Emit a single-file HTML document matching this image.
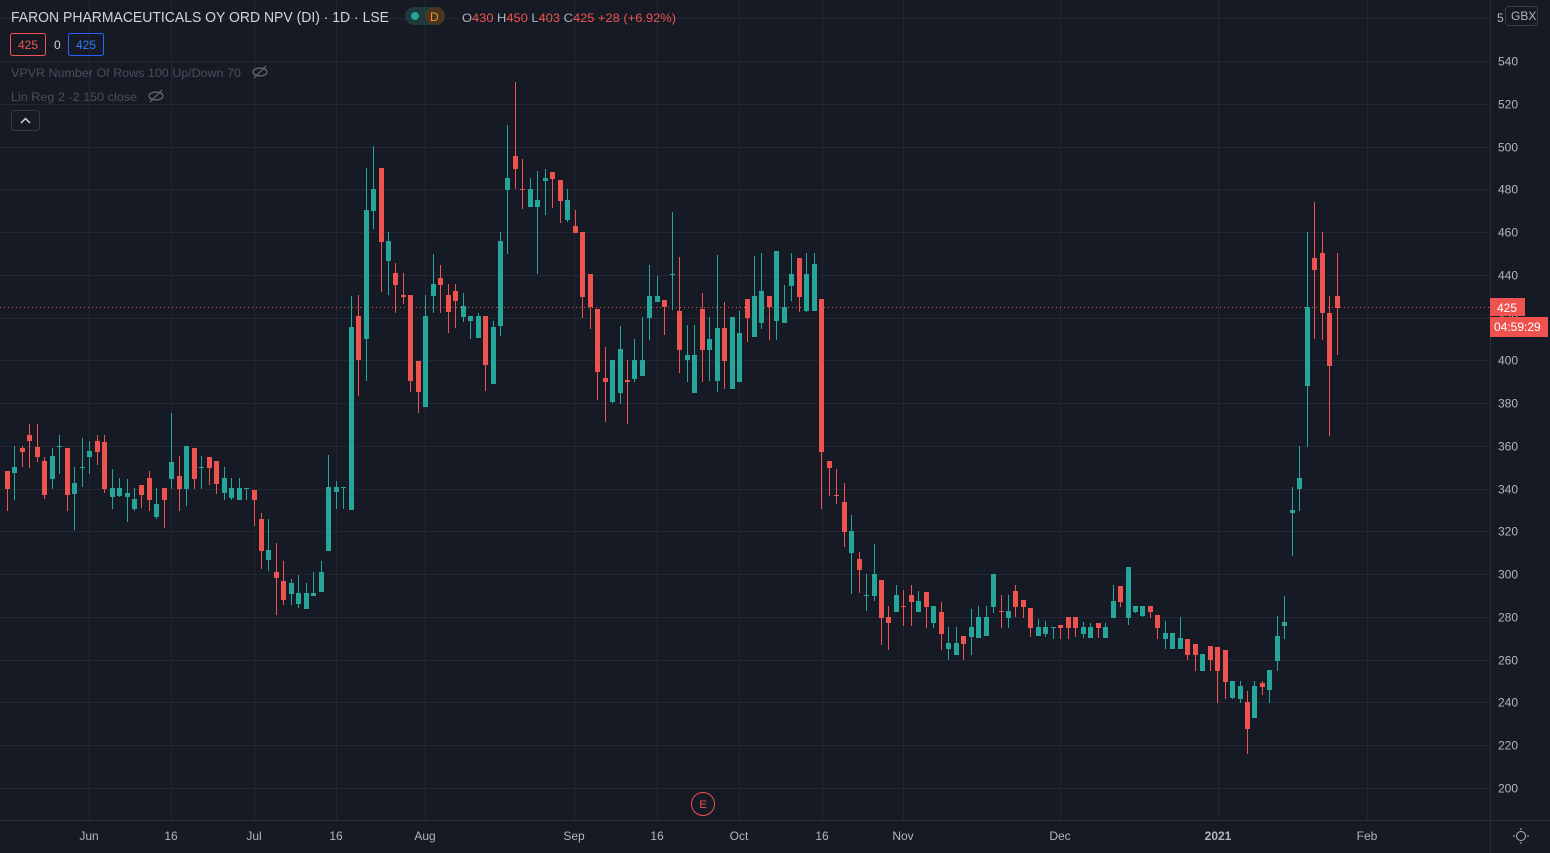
<!DOCTYPE html>
<html><head><meta charset="utf-8"><style>
html,body{margin:0;padding:0;background:#161a25;width:1550px;height:853px;overflow:hidden;font-family:"Liberation Sans",sans-serif}
svg{position:absolute;left:0;top:0}
</style></head><body>
<svg id="s" width="1550" height="853" xmlns="http://www.w3.org/2000/svg">
<rect x="0" y="0" width="1550" height="853" fill="#161a25"/>
<g id="grid" stroke="#232734" stroke-width="1"></g>
<line x1="1490.5" y1="0" x2="1490.5" y2="853" stroke="#2a2e39"/>
<line x1="0" y1="820.5" x2="1550" y2="820.5" stroke="#2a2e39"/>
<line x1="0" y1="307.5" x2="1490" y2="307.5" stroke="#ef5350" stroke-dasharray="1 3"/>
<g id="c"></g>
<g id="yl" font-size="12" fill="#b2b5be"></g>
<g id="xl" font-size="12" fill="#b2b5be" text-anchor="middle"></g>
<text x="11" y="22" font-size="15" fill="#d1d4dc" textLength="378" lengthAdjust="spacingAndGlyphs">FARON PHARMACEUTICALS OY ORD NPV (DI) · 1D · LSE</text>
<rect x="405" y="7" width="40" height="18" rx="9" fill="#1e3a3a"/>
<rect x="425" y="7" width="20" height="18" rx="9" fill="#4a3520"/>
<circle cx="415" cy="16" r="4" fill="#26a69a"/>
<text x="430" y="21" font-size="12" fill="#f7931a">D</text>
<text x="462" y="22" font-size="12" fill="#ef5350" textLength="214" lengthAdjust="spacingAndGlyphs"><tspan fill="#b2b5be">O</tspan>430 <tspan fill="#b2b5be">H</tspan>450 <tspan fill="#b2b5be">L</tspan>403 <tspan fill="#b2b5be">C</tspan>425 +28 (+6.92%)</text>
<rect x="10.5" y="33.5" width="35" height="22" rx="2" fill="none" stroke="#ef5350"/>
<text x="18" y="49" font-size="12" fill="#ef5350">425</text>
<text x="54" y="49" font-size="12" fill="#d1d4dc">0</text>
<rect x="68.5" y="33.5" width="35" height="22" rx="2" fill="none" stroke="#2962ff"/>
<text x="76" y="49" font-size="12" fill="#2f7bff">425</text>
<text x="11" y="77" font-size="12" fill="#4a4e5a" textLength="230" lengthAdjust="spacingAndGlyphs">VPVR Number Of Rows 100 Up/Down 70</text>
<text x="11" y="101" font-size="12" fill="#4a4e5a" textLength="126" lengthAdjust="spacingAndGlyphs">Lin Reg 2 -2 150 close</text>
<g fill="none" stroke="#6a6d78" stroke-width="1.2"><ellipse cx="260" cy="72" rx="7" ry="4"/><line x1="254" y1="78" x2="266" y2="66"/><ellipse cx="156" cy="96" rx="7" ry="4"/><line x1="150" y1="102" x2="162" y2="90"/></g>
<rect x="11.5" y="110.5" width="28" height="20" rx="3" fill="none" stroke="#363a45"/>
<path d="M21 123 L25.5 118.5 L30 123" fill="none" stroke="#d1d4dc" stroke-width="1.5"/>
<circle cx="703" cy="804" r="11.5" fill="none" stroke="#ef5350"/>
<text x="703" y="808" font-size="11" fill="#ef5350" text-anchor="middle">E</text>
<rect x="1490" y="298" width="35" height="18" fill="#ef5350"/>
<text x="1497" y="312" font-size="12" fill="#fff">425</text>
<rect x="1490" y="317" width="58" height="20" fill="#ef5350"/>
<text x="1494" y="331" font-size="12" fill="#fff">04:59:29</text>
<text x="1497" y="22" font-size="12" fill="#b2b5be">5</text>
<rect x="1505.5" y="6.5" width="32" height="19" rx="3" fill="#161a25" stroke="#363a45"/>
<text x="1511" y="20" font-size="12" fill="#b2b5be">GBX</text>
<circle cx="1521" cy="836" r="4.5" fill="none" stroke="#b2b5be"/>
<g stroke="#b2b5be"><line x1="1521" y1="828" x2="1521" y2="830"/><line x1="1521" y1="842" x2="1521" y2="844"/><line x1="1513" y1="836" x2="1515" y2="836"/><line x1="1527" y1="836" x2="1529" y2="836"/></g>
</svg>
<script>
var NS="http://www.w3.org/2000/svg";
function el(p,t,a,txt){var e=document.createElementNS(NS,t);for(var k in a)e.setAttribute(k,a[k]);if(txt)e.textContent=txt;p.appendChild(e);return e;}
var g=document.getElementById('grid'),yl=document.getElementById('yl'),xl=document.getElementById('xl'),c=document.getElementById('c');
for(var p=200;p<=560;p+=20){var y=788-(p-200)*2.1382;y=Math.round(y)+0.5;el(g,'line',{x1:0,y1:y,x2:1490,y2:y});if(p<560)el(yl,'text',{x:1498,y:y+4},String(p));}
var xs=[[89,'Jun'],[171,'16'],[254,'Jul'],[336,'16'],[425,'Aug'],[574,'Sep'],[657,'16'],[739,'Oct'],[822,'16'],[903,'Nov'],[1060,'Dec'],[1218,'2021'],[1367,'Feb']];
xs.forEach(function(a){el(g,'line',{x1:a[0]+.5,y1:0,x2:a[0]+.5,y2:820});el(xl,'text',{x:a[0],y:840,'font-weight':a[1]=='2021'?'bold':'normal'},a[1]);});
var d="r471 489 471 511,g467 473 446 500,r448 452 446 467,r435 441 424 468,r447 457 424 462,r461 495 457 499,g456 479 448 489,g446 447 435 474,r448 495 448 511,g483 494 467 530,g467 468 438 487,g451 457 441 474,r441 452 435 465,r442 489 435 493,g488 497 469 509,g488 496 478 497,g493 497 479 522,g499 509 488 511,r485 495 485 508,r478 500 471 511,g504 517 488 519,r488 500 488 528,g462 479 413 489,r476 489 456 511,g446 489 446 506,r448 479 448 489,g467 468 456 489,r457 468 457 485,r461 484 461 494,g478 493 467 500,g488 498 478 500,g488 500 478 500,g488 489 488 500,r490 500 490 526,r519 551 513 569,g550 560 519 571,r572 578 543 615,r581 600 561 605,g583 594 579 605,g593 604 575 608,g593 609 583 609,g593 596 572 596,g572 592 561 592,g487 551 455 551,g487 492 481 509,g487 488 487 509,g327 510 296 510,r316 360 295 396,g210 339 168 381,g189 211 146 229,r168 242 168 292,g241 261 232 295,r273 285 263 313,r295 297 273 304,r295 381 295 392,r361 392 361 413,g316 407 295 407,g284 296 254 313,r278 285 265 313,r295 312 284 333,r291 301 284 328,g306 317 293 322,g316 321 316 339,g316 338 313 338,r316 365 316 391,g327 384 321 384,g241 326 232 336,g178 190 125 254,r156 169 82 189,r189 190 159 209,g189 207 178 207,g200 207 171 274,g178 181 169 215,r172 179 172 208,r180 201 180 223,g200 220 189 222,r226 233 210 233,r232 297 232 318,r274 307 274 329,r309 372 309 400,r378 382 347 422,g360 402 360 403,g349 393 326 404,r380 382 360 424,g360 379 339 382,g360 376 317 376,g296 318 265 340,g296 302 276 302,r300 307 300 335,g274 275 212 310,r311 350 257 373,g355 360 325 382,g355 393 325 393,r309 350 293 382,g339 350 317 381,g328 381 255 392,r328 361 302 389,g317 389 317 389,g333 382 311 382,r299 318 299 342,g296 337 256 337,g291 323 253 329,r296 307 296 340,g251 321 251 340,g307 323 285 323,g274 286 253 301,r258 297 258 312,g274 311 253 312,g264 311 253 311,r299 452 299 509,r461 468 461 496,r495 496 469 504,r502 532 483 547,g531 553 515 594,r559 570 552 593,g595 596 574 611,g574 596 544 601,r580 618 580 645,r617 623 606 650,g595 612 585 612,r606 607 590 626,r595 602 585 626,g601 612 591 612,r592 607 592 628,g606 623 606 628,r612 634 602 650,g643 649 627 660,g643 655 627 655,r636 644 636 660,g627 637 609 655,g617 638 606 638,g617 636 606 636,g574 607 574 613,r611 612 595 628,g611 618 595 628,r591 607 585 617,r600 607 600 618,r608 628 608 637,g627 636 619 636,g627 634 621 637,g627 628 627 639,r625 628 625 639,r617 628 617 639,r617 628 617 637,g627 634 622 638,g627 638 623 638,r623 628 623 638,g627 638 623 638,g601 618 585 618,r586 602 586 607,g567 618 567 625,g606 612 606 613,g606 616 606 617,r606 612 606 618,r615 628 615 639,g633 639 621 649,g633 649 633 649,g638 649 617 649,r639 655 639 660,r644 655 644 671,g654 671 654 671,r646 660 646 671,r647 671 647 703,r650 682 650 699,g681 698 681 699,g686 699 681 703,r702 729 691 754,g686 718 681 718,r683 687 681 695,g670 690 670 703,g636 661 616 671,g622 626 596 639,g510 513 487 556,g478 489 446 511,g307 386 232 447,r258 270 202 339,r253 313 232 340,r313 366 296 436,r296 308 253 355".split(',');
d.forEach(function(s,i){var col=s[0]=='g'?'#26a69a':'#ef5350';var v=s.slice(1).split(' ').map(Number);var x=Math.round(7+i*7.47);
el(c,'rect',{x:x,y:v[2],width:1,height:Math.max(1,v[3]-v[2]),fill:col});
el(c,'rect',{x:x-2,y:v[0],width:5,height:Math.max(1,v[1]-v[0]),fill:col});});
</script>
</body></html>
